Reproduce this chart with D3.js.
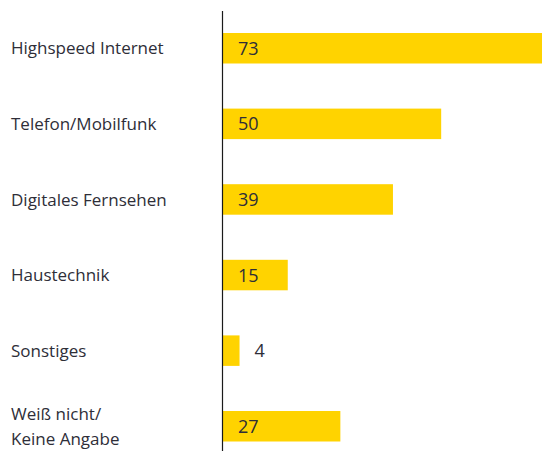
<!DOCTYPE html>
<html>
<head>
<meta charset="utf-8">
<script src="https://cdn.jsdelivr.net/npm/d3@7"></script>
<style>
  body { margin: 0; background: #fff; }
  text { font-family: "Open Sans", "Liberation Sans", sans-serif; fill: #2e2e38; }
</style>
</head>
<body>
<div id="chart"></div>
<script>
var categories = ["Highspeed Internet", "Telefon/Mobilfunk", "Digitales Fernsehen", "Haustechnik", "Sonstiges", "Weiß nicht/\nKeine Angabe"];
var values = [73, 50, 39, 15, 4, 27];

var width = 542, height = 451;
var step = 75.6, barH = 30.5;
var pad = 1 - barH / step;
var top0 = 33 - step * pad / 2;

var svg = d3.select('#chart')
    .append('svg')
    .attr('width', width)
    .attr('height', height);

var x = d3.scaleLinear()
    .domain([0, 73])
    .range([222, 542]);

var y = d3.scaleBand()
    .domain(categories)
    .range([top0, top0 + categories.length * step])
    .paddingInner(pad)
    .paddingOuter(pad / 2);

var data = categories.map(function(c, i){ return {cat: c, val: values[i]} });

svg.selectAll('.bar')
    .data(data)
    .enter().append('rect')
    .attr('class', 'bar')
    .attr('x', x(0))
    .attr('y', function(d){ return y(d.cat) })
    .attr('width', function(d){ return x(d.val) - x(0) })
    .attr('height', y.bandwidth())
    .attr('fill', '#ffd300');

// senkrechte Achse
svg.append('line')
    .attr('x1', x(0) + 0.5).attr('x2', x(0) + 0.5)
    .attr('y1', 11).attr('y2', height)
    .attr('stroke', '#1a1a1a')
    .attr('stroke-width', 1.2);

// Werte
svg.selectAll('.val')
    .data(data)
    .enter().append('text')
    .attr('class', 'val')
    .attr('x', function(d){
        if(x(d.val) - x(0) < 30){
            return x(d.val) + 15
        }
        return x(0) + 16
    })
    .attr('y', function(d){ return y(d.cat) + y.bandwidth() / 2 })
    .attr('dy', '0.36em')
    .attr('font-size', 18)
    .text(function(d){ return d.val });

// Kategorien
var labels = svg.selectAll('.cat')
    .data(data)
    .enter().append('text')
    .attr('class', 'cat')
    .attr('x', 11)
    .attr('y', function(d){ return y(d.cat) + y.bandwidth() / 2 })
    .attr('font-size', 17);

labels.each(function(d){
    var lines = d.cat.split('\n');
    var t = d3.select(this);
    lines.forEach(function(l, i){
        t.append('tspan')
            .attr('x', 11)
            .attr('dy', i == 0 ? (0.36 - (lines.length - 1) * 0.74) + 'em' : '1.48em')
            .text(l);
    });
});
</script>
</body>
</html>
